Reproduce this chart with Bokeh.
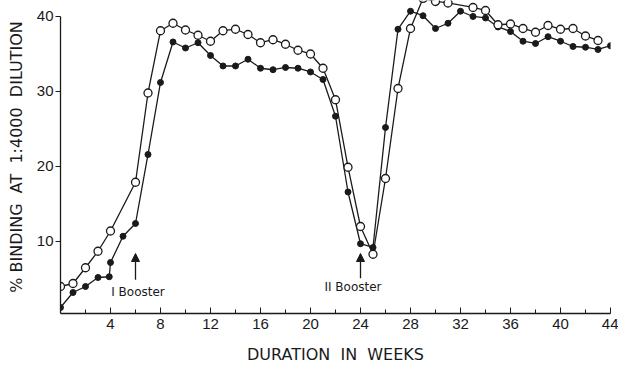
from bokeh.plotting import figure
from bokeh.models import FixedTicker, Arrow, NormalHead, Label, Range1d
from bokeh.embed import file_html
from bokeh.resources import INLINE

# Open circles series
weeks_open = [0, 1, 2, 3, 4, 6, 7, 8, 9, 10, 11, 12, 13, 14, 15, 16, 17, 18, 19, 20,
              21, 22, 23, 24, 25, 26, 27, 28, 29, 30, 31, 33, 34, 35, 36, 37, 38, 39,
              40, 41, 42, 43]
open_vals = [4.0, 4.4, 6.5, 8.7, 11.4, 17.9, 29.8, 38.1, 39.1, 38.2, 37.5, 36.7, 38.1,
             38.3, 37.6, 36.5, 36.9, 36.3, 35.5, 35.0, 33.1, 28.9, 19.9, 12.0, 8.3, 18.4,
             30.4, 38.4, 42.4, 42.0, 41.8, 41.2, 40.8, 38.9, 39.0, 38.4, 37.9, 38.8, 38.3,
             38.4, 37.4, 36.8]

# Filled circles series
weeks_filled = [0, 1, 2, 3, 3.9, 4, 5, 6, 7, 8, 9, 10, 11, 12, 13, 14, 15, 16, 17, 18,
                19, 20, 21, 22, 23, 24, 25, 26, 27, 28, 29, 30, 31, 32, 33, 34, 35, 36,
                37, 38, 39, 40, 41, 42, 43, 44]
filled_vals = [1.2, 3.2, 4.0, 5.2, 5.3, 7.2, 10.7, 12.4, 21.6, 31.2, 36.6, 35.8, 36.5,
               34.8, 33.4, 33.4, 34.3, 33.1, 32.9, 33.2, 33.1, 32.6, 31.6, 26.7, 16.6,
               9.7, 9.2, 25.2, 38.3, 40.7, 40.1, 38.4, 39.1, 40.7, 40.0, 39.8, 38.6, 38.0,
               36.7, 36.4, 37.3, 36.7, 36.0, 35.9, 35.6, 36.1]

x_ticks = [4, 8, 12, 16, 20, 24, 28, 32, 36, 40, 44]
x_minor = [2, 6, 10, 14, 18, 22, 26, 30, 34, 38, 42]
y_ticks = [10, 20, 30, 40]

boosters = ["I Booster", "II Booster"]
booster_weeks = [6, 24]

FONT = "Liberation Sans"
LFONT = "DejaVu Sans"
INK = "#1a1a1a"

p = figure(width=618, height=376, output_backend="svg", toolbar_location=None,
           x_range=Range1d(0, 44), y_range=Range1d(0.4, 42.13),
           min_border_left=60, min_border_right=8, min_border_top=0,
           min_border_bottom=63)
p.outline_line_color = None
p.grid.visible = False
p.background_fill_color = "white"

# lines & markers
p.line(weeks_open, open_vals, line_color=INK, line_width=1.3)
p.line(weeks_filled, filled_vals, line_color=INK, line_width=1.3)
p.scatter(weeks_filled, filled_vals, size=6, fill_color=INK, line_color=INK)
p.scatter(weeks_open, open_vals, size=8, fill_color="white", line_color=INK,
          line_width=1.3)

# axes
xa = p.xaxis[0]
xa.ticker = FixedTicker(ticks=x_ticks, minor_ticks=x_minor)
xa.major_tick_in = 6
xa.major_tick_out = 0
xa.minor_tick_in = 4
xa.minor_tick_out = 0
xa.axis_line_color = INK
xa.major_tick_line_color = INK
xa.minor_tick_line_color = INK
xa.axis_line_width = 1.3
xa.major_label_text_font = FONT
xa.major_label_text_font_size = "15px"
xa.major_label_text_color = INK
xa.major_label_standoff = 5
xa.axis_label = "DURATION\u00a0\u00a0IN\u00a0\u00a0WEEKS"
xa.axis_label_text_font = LFONT
xa.axis_label_text_font_style = "normal"
xa.axis_label_text_font_size = "16px"
xa.axis_label_text_color = INK
xa.axis_label_standoff = 13

ya = p.yaxis[0]
ya.ticker = FixedTicker(ticks=y_ticks, minor_ticks=[])
ya.bounds = (0.4, 40)
ya.major_tick_in = 0
ya.major_tick_out = 5
ya.axis_line_color = INK
ya.major_tick_line_color = INK
ya.axis_line_width = 1.3
ya.major_label_text_font = FONT
ya.major_label_text_font_size = "15px"
ya.major_label_text_color = INK
ya.major_label_standoff = 2
ya.axis_label = "%\u00a0BINDING\u00a0\u00a0AT\u00a0\u00a01:4000\u00a0\u00a0DILUTION"
ya.axis_label_text_font = LFONT
ya.axis_label_text_font_style = "normal"
ya.axis_label_text_font_size = "16px"
ya.axis_label_text_color = INK
ya.axis_label_standoff = 8

# booster annotations
arrow_starts = [4.9, 5.1]
arrow_ends = [8.4, 8.4]
label_x = [6.2, 23.4]
label_y = [3.3, 3.9]
for w, y0, y1, lx, ly, txt in zip(booster_weeks, arrow_starts, arrow_ends,
                                  label_x, label_y, boosters):
    p.add_layout(Arrow(end=NormalHead(size=8, fill_color=INK, line_color=INK),
                       x_start=w, y_start=y0, x_end=w, y_end=y1,
                       line_color=INK, line_width=1.3))
    p.add_layout(Label(x=lx, y=ly, text=txt, text_font=LFONT,
                       text_font_size="12px", text_color=INK,
                       text_align="center", text_baseline="middle"))

open("out.html", "w").write(file_html(p, INLINE))
